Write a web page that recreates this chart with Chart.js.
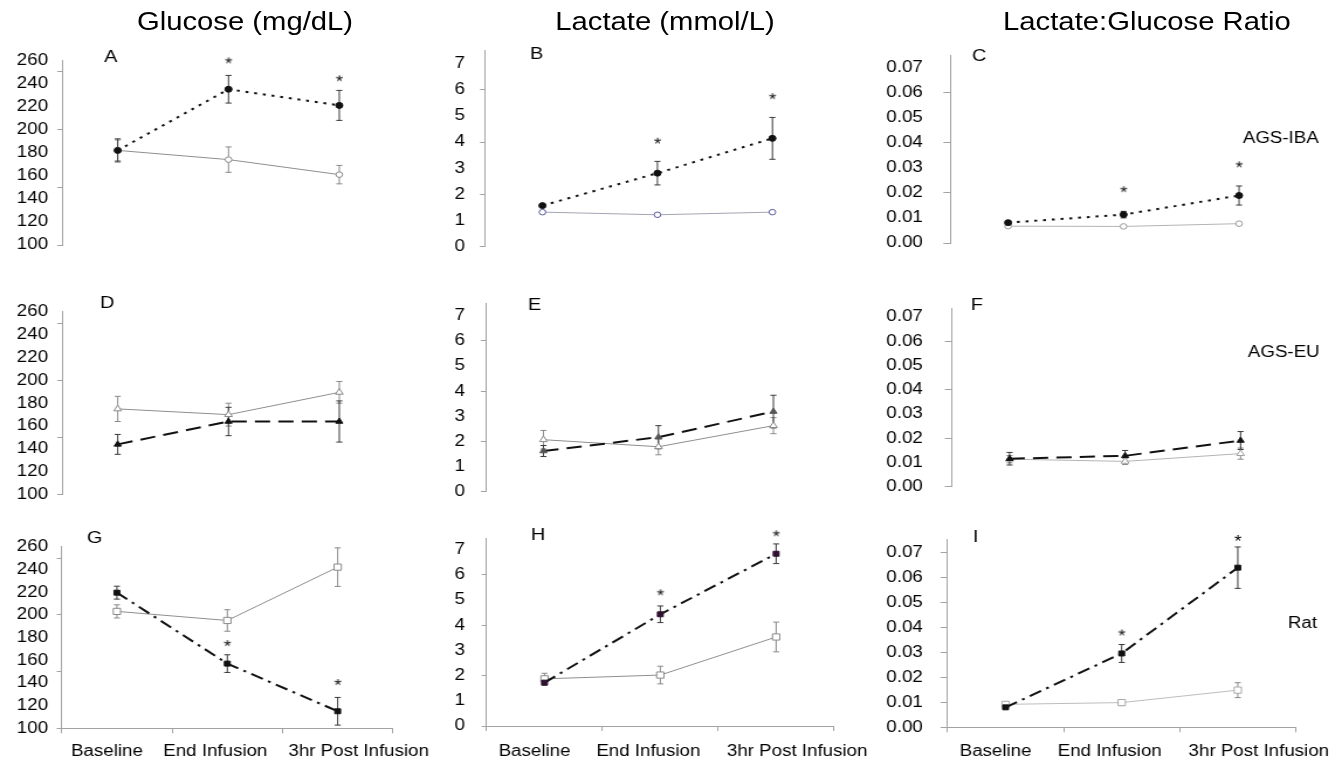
<!DOCTYPE html>
<html>
<head>
<meta charset="utf-8">
<title>Glucose, lactate and lactate:glucose ratio</title>
<script src="https://cdn.jsdelivr.net/npm/chart.js@4/dist/chart.umd.min.js"></script>
<style>
  html, body { margin: 0; padding: 0; background: #fff; overflow: hidden; }
  #stage { position: absolute; left: 0; top: 0; height: 762px; transform-origin: 0 0;
           font-family: "Liberation Sans", Arial, Helvetica, sans-serif; }
  #stage canvas { position: absolute; }
  .coltitle { position: absolute; top: 6px; font-size: 25px; line-height: 30px; white-space: nowrap;
              transform: translateX(-50%); color: #000; }
</style>
</head>
<body>
<div id="stage"></div>
<script>
// The figure is drawn slightly wide, so the whole stage is stretched horizontally.
const STRETCH = 1.17;

const categories = ['Baseline', 'End Infusion', '3hr Post Infusion'];

// Axis labels and tick marks
const glucoseTicks = [100, 120, 140, 160, 180, 200, 220, 240, 260];
const glucoseMarks = [100, 150, 200, 250];
const lactateTicks = [0, 1, 2, 3, 4, 5, 6, 7];
const lactateMarks = [0, 2, 4, 6];
const ratioTicks = [0, 0.01, 0.02, 0.03, 0.04, 0.05, 0.06, 0.07];
const ratioMarks = [0, 0.02, 0.04, 0.06];

// AGS-IBA
const ibaGlucoseControl = [182, 174, 161];
const ibaGlucoseControlSem = [9, 11, 8];
const ibaGlucoseInfused = [182, 235, 221];
const ibaGlucoseInfusedSem = [10, 12, 13];
const ibaGlucoseSig = [null, 260, 244.5];
const ibaLactateControl = [1.32, 1.22, 1.32];
const ibaLactateControlSem = [0.06, 0.05, 0.05];
const ibaLactateInfused = [1.57, 2.81, 4.14];
const ibaLactateInfusedSem = [0.06, 0.45, 0.8];
const ibaLactateSig = [null, 4.05, 5.75];
const ibaRatioControl = [0.0067, 0.0066, 0.0077];
const ibaRatioControlSem = [0.0004, 0.0004, 0.0004];
const ibaRatioInfused = [0.0081, 0.0113, 0.0189];
const ibaRatioInfusedSem = [0.0006, 0.0013, 0.0038];
const ibaRatioSig = [null, 0.0214, 0.0313];

// AGS-EU
const euGlucoseControl = [175, 170, 189.5];
const euGlucoseControlSem = [11, 10, 9.5];
const euGlucoseInfused = [144, 164, 164];
const euGlucoseInfusedSem = [8.7, 12.4, 18];
const euLactateControl = [2.07, 1.79, 2.63];
const euLactateControlSem = [0.37, 0.32, 0.32];
const euLactateInfused = [1.62, 2.17, 3.19];
const euLactateInfusedSem = [0.22, 0.46, 0.65];
const euRatioControl = [0.0113, 0.0104, 0.0136];
const euRatioControlSem = [0.0015, 0.0013, 0.0023];
const euRatioInfused = [0.0115, 0.0127, 0.019];
const euRatioInfusedSem = [0.0026, 0.0022, 0.0037];

// Rat
const ratGlucoseControl = [203, 195, 242];
const ratGlucoseControlSem = [5.8, 9.5, 17];
const ratGlucoseInfused = [219.5, 157, 115];
const ratGlucoseInfusedSem = [5.7, 7.8, 12.2];
const ratGlucoseSig = [null, 175, 140.7];
const ratLactateControl = [1.87, 2.02, 3.53];
const ratLactateControlSem = [0.22, 0.35, 0.59];
const ratLactateInfused = [1.72, 4.43, 6.83];
const ratLactateInfusedSem = [0.1, 0.33, 0.39];
const ratLactateSig = [null, 5.3, 7.64];
const ratRatioControl = [0.0092, 0.0099, 0.0149];
const ratRatioControlSem = [0.001, 0.0012, 0.003];
const ratRatioInfused = [0.008, 0.0296, 0.064];
const ratRatioInfusedSem = [0.0005, 0.0036, 0.0083];
const ratRatioSig = [null, 0.038, 0.0759];

const columnTitles = ['Glucose (mg/dL)', 'Lactate (mmol/L)', 'Lactate:Glucose Ratio'];
const groupNames = ['AGS-IBA', 'AGS-EU', 'Rat'];

// ---------------------------------------------------------------------------
const FONT = '"Liberation Sans", Arial, Helvetica, sans-serif';
const AXIS = '#a3a3a3';
Chart.defaults.font.family = FONT;

const stage = document.getElementById('stage');
stage.style.width = (1341 / STRETCH) + 'px';
stage.style.transform = 'scaleX(' + STRETCH + ')';
const sx = v => v / STRETCH;

const titleCenters = [245, 665, 1147];
columnTitles.forEach((t, i) => {
  const d = document.createElement('div');
  d.className = 'coltitle';
  d.textContent = t;
  d.style.left = sx(titleCenters[i]) + 'px';
  stage.appendChild(d);
});

// page-space frames of the grid
const colFrames = [
  { left: 0, right: 440, labelRight: 48, tick: 5 },
  { left: 440, right: 880, labelRight: 465, tick: 5 },
  { left: 880, right: 1341, labelRight: 923, tick: 7 }
];
const rowFrames = [
  { top: 28, bottom: 272 },
  { top: 280, bottom: 515 },
  { top: 515, bottom: 762 }
];
const panelLayout = {
  A: { axisX: 62.3, catW: 110.8, top: 60.4, bottom: 245, min: 100, max: 260, letter: [104, 57] },
  B: { axisX: 485, catW: 115, top: 48, bottom: 246.7, min: 0, max: 7.5, letter: [530, 54] },
  C: { axisX: 950.5, catW: 115.5, top: 46, bottom: 243, min: 0, max: 0.0748, letter: [972, 56] },
  D: { axisX: 62.3, catW: 110.8, top: 311.7, bottom: 494.7, min: 100, max: 260, letter: [100, 303] },
  E: { axisX: 486, catW: 115, top: 298, bottom: 492, min: 0, max: 7.5, letter: [528, 305] },
  F: { axisX: 952, catW: 115.5, top: 301.7, bottom: 492, min: 0, max: 0.0735, letter: [971, 305] },
  G: { axisX: 61.7, catW: 110.4, top: 546.7, bottom: 728.3, min: 100, max: 260, letter: [87, 538] },
  H: { axisX: 486.7, catW: 115.8, top: 530, bottom: 726, min: 0, max: 7.42, letter: [531, 535] },
  I: { axisX: 947.7, catW: 116.1, top: 526.7, bottom: 727.3, min: 0, max: 0.0752, letter: [973, 537] }
};
const groupLabelPos = [[1243, 139], [1248, 353], [1288, 624]];
const captionShift = [-10, -12, 21];
const captionCenterY = 751.5;

const rowStyles = [
  { dash: [2.5, 5], treatedPoint: 'circle', treatedR: 3, controlPoint: 'circle', controlR: 2.8 },
  { dash: [13, 7], treatedPoint: 'triangle', treatedR: 3.5, controlPoint: 'triangle', controlR: 3.8 },
  { dash: [11, 5, 2.5, 5], treatedPoint: 'rect', treatedR: 3.5, controlPoint: 'rect', controlR: 4.4 }
];

const panels = [
  { key: 'A', row: 0, col: 0, ticks: glucoseTicks, marks: glucoseMarks, dec: 0,
    control: ibaGlucoseControl, controlSem: ibaGlucoseControlSem, treated: ibaGlucoseInfused, treatedSem: ibaGlucoseInfusedSem, sig: ibaGlucoseSig },
  { key: 'B', row: 0, col: 1, ticks: lactateTicks, marks: lactateMarks, dec: 0,
    control: ibaLactateControl, controlSem: ibaLactateControlSem, treated: ibaLactateInfused, treatedSem: ibaLactateInfusedSem, sig: ibaLactateSig,
    controlLine: '#a4a4b4', controlMarker: '#5c5ca0' },
  { key: 'C', row: 0, col: 2, ticks: ratioTicks, marks: ratioMarks, dec: 2,
    control: ibaRatioControl, controlSem: ibaRatioControlSem, treated: ibaRatioInfused, treatedSem: ibaRatioInfusedSem, sig: ibaRatioSig,
    controlLine: '#b4b4b4', controlMarker: '#999' },
  { key: 'D', row: 1, col: 0, ticks: glucoseTicks, marks: glucoseMarks, dec: 0,
    control: euGlucoseControl, controlSem: euGlucoseControlSem, treated: euGlucoseInfused, treatedSem: euGlucoseInfusedSem },
  { key: 'E', row: 1, col: 1, ticks: lactateTicks, marks: lactateMarks, dec: 0,
    control: euLactateControl, controlSem: euLactateControlSem, treated: euLactateInfused, treatedSem: euLactateInfusedSem,
    treatedFill: '#555' },
  { key: 'F', row: 1, col: 2, ticks: ratioTicks, marks: ratioMarks, dec: 2,
    control: euRatioControl, controlSem: euRatioControlSem, treated: euRatioInfused, treatedSem: euRatioInfusedSem,
    controlLine: '#b4b4b4', controlMarker: '#a0a0a0' },
  { key: 'G', row: 2, col: 0, ticks: glucoseTicks, marks: glucoseMarks, dec: 0,
    control: ratGlucoseControl, controlSem: ratGlucoseControlSem, treated: ratGlucoseInfused, treatedSem: ratGlucoseInfusedSem, sig: ratGlucoseSig },
  { key: 'H', row: 2, col: 1, ticks: lactateTicks, marks: lactateMarks, dec: 0,
    control: ratLactateControl, controlSem: ratLactateControlSem, treated: ratLactateInfused, treatedSem: ratLactateInfusedSem, sig: ratLactateSig,
    treatedFill: '#2e1230' },
  { key: 'I', row: 2, col: 2, ticks: ratioTicks, marks: ratioTicks, dec: 2,
    control: ratRatioControl, controlSem: ratRatioControlSem, treated: ratRatioInfused, treatedSem: ratRatioInfusedSem, sig: ratRatioSig,
    controlLine: '#bdbdbd', controlMarker: '#aaa' }
];

// asterisk used as the significance marker
function makeAsterisk() {
  const c = document.createElement('canvas');
  c.width = 14; c.height = 14;
  const g = c.getContext('2d');
  g.font = '16px ' + FONT;
  g.textAlign = 'center';
  g.textBaseline = 'alphabetic';
  g.fillStyle = '#000';
  const m = g.measureText('*');
  const base = 7 + (m.actualBoundingBoxAscent - m.actualBoundingBoxDescent) / 2;
  g.fillText('*', 7, base);
  return c;
}
const asterisk = makeAsterisk();

// panel letters, group names and the time-point captions under the category axis
const panelTextPlugin = {
  id: 'panelText',
  afterDraw(chart, args, opts) {
    const ctx = chart.ctx;
    ctx.save();
    ctx.fillStyle = '#000';
    ctx.textBaseline = 'middle';
    ctx.textAlign = 'left';
    (opts.items || []).forEach(t => {
      ctx.font = t.size + 'px ' + FONT;
      ctx.fillText(t.text, t.x, t.y);
    });
    if (opts.captions) {
      const xs = chart.scales.x;
      ctx.textAlign = 'center';
      ctx.font = '16px ' + FONT;
      xs.getLabels().forEach((lab, i) => {
        ctx.fillText(lab, xs.getPixelForValue(i) + opts.captions.shift[i], xs.top + opts.captions.dy);
      });
    }
    ctx.restore();
  }
};

function buildPanel(p) {
  const L = panelLayout[p.key];
  const cf = colFrames[p.col];
  const rf = rowFrames[p.row];
  const st = rowStyles[p.row];
  const isBottom = p.row === 2;

  const canvas = document.createElement('canvas');
  const cw = Math.round(sx(cf.right - cf.left));
  const ch = rf.bottom - rf.top;
  canvas.width = cw; canvas.height = ch;
  canvas.style.left = sx(cf.left) + 'px';
  canvas.style.top = rf.top + 'px';
  canvas.style.width = cw + 'px';
  canvas.style.height = ch + 'px';
  stage.appendChild(canvas);

  const tickW = sx(cf.tick);
  const labelW = sx(L.axisX - cf.left) - tickW;
  const plotRight = L.axisX + 3 * L.catW;
  const padRight = cw - sx(plotRight - cf.left);
  const padTop = L.top - rf.top;
  const padBottom = rf.bottom - L.bottom;
  const fmt = v => p.dec ? Number(v).toFixed(p.dec) : String(Math.round(v));

  const controlLine = p.controlLine || '#8e8e8e';
  const controlMarker = p.controlMarker || '#8a8a8a';
  const treatedFill = p.treatedFill || '#111';

  const common = { xAxisID: 'x', yAxisID: 'y', clip: false, tension: 0 };
  const datasets = [];
  datasets.push(Object.assign({
    label: 'Infused', data: p.treated, borderColor: '#111', borderWidth: 2, borderDash: st.dash,
    pointStyle: st.treatedPoint, pointRadius: st.treatedR, pointBackgroundColor: treatedFill,
    pointBorderColor: treatedFill, pointBorderWidth: 1
  }, common));
  datasets.push(Object.assign({
    label: 'Control', data: p.control, borderColor: controlLine, borderWidth: 1,
    pointStyle: st.controlPoint, pointRadius: st.controlR, pointBackgroundColor: '#fff',
    pointBorderColor: controlMarker, pointBorderWidth: 1
  }, common));

  // error bars: mean ± SEM at each time point
  [[p.treated, p.treatedSem, '#3a3a3a'], [p.control, p.controlSem, '#8a8a8a']].forEach(([vals, sems, color]) => {
    vals.forEach((v, i) => {
      datasets.push(Object.assign({
        label: 'SEM',
        data: [{ x: categories[i], y: v - sems[i] }, { x: categories[i], y: v + sems[i] }],
        borderColor: color, borderWidth: 1, pointStyle: 'line', pointRadius: 2.6,
        pointBorderColor: color, pointBackgroundColor: color, pointBorderWidth: 1
      }, common));
    });
  });

  if (p.sig) {
    datasets.push(Object.assign({
      label: 'P < 0.05', data: p.sig, showLine: false, pointStyle: asterisk, pointRadius: 6
    }, common));
  }

  const scales = {
    x: {
      type: 'category', position: 'bottom', offset: true, display: isBottom,
      grid: { offset: true, drawOnChartArea: false, drawTicks: true, tickLength: 5, color: AXIS, lineWidth: 1 },
      border: { display: true, color: AXIS, width: 1 },
      ticks: { display: false },
      afterFit: s => { s.height = 0; }
    },
    y: {
      type: 'linear', position: 'left', weight: 1, min: L.min, max: L.max,
      grid: { display: false, drawTicks: false },
      border: { display: false },
      ticks: {
        color: '#000', font: { family: FONT, size: 16 }, autoSkip: false,
        padding: sx(L.axisX - cf.tick - cf.labelRight),
        callback: v => fmt(v)
      },
      afterBuildTicks: s => { s.ticks = p.ticks.map(v => ({ value: v })); },
      afterFit: s => { s.width = labelW; }
    },
    yMarks: {
      type: 'linear', position: 'left', weight: 0, min: L.min, max: L.max,
      grid: { drawOnChartArea: false, drawTicks: true, tickLength: tickW, color: AXIS, lineWidth: 1 },
      border: { display: true, color: AXIS, width: 1 },
      ticks: { display: false },
      afterBuildTicks: s => { s.ticks = p.marks.map(v => ({ value: v })); },
      afterFit: s => { s.width = tickW; }
    }
  };

  const items = [{ text: p.key, size: 17, x: sx(L.letter[0] - cf.left), y: L.letter[1] - rf.top }];
  if (p.col === 2) {
    const gp = groupLabelPos[p.row];
    items.push({ text: groupNames[p.row], size: 16, x: sx(gp[0] - cf.left), y: gp[1] - rf.top });
  }
  const captions = isBottom ? { shift: captionShift.map(sx), dy: captionCenterY - L.bottom } : null;

  new Chart(canvas, {
    type: 'line',
    data: { labels: categories, datasets },
    options: {
      responsive: false,
      animation: false,
      events: [],
      layout: { padding: { left: 0, right: padRight, top: padTop, bottom: padBottom } },
      scales,
      plugins: {
        legend: { display: false },
        tooltip: { enabled: false },
        panelText: { items, captions }
      }
    },
    plugins: [panelTextPlugin]
  });
}

panels.forEach(buildPanel);
</script>
</body>
</html>
